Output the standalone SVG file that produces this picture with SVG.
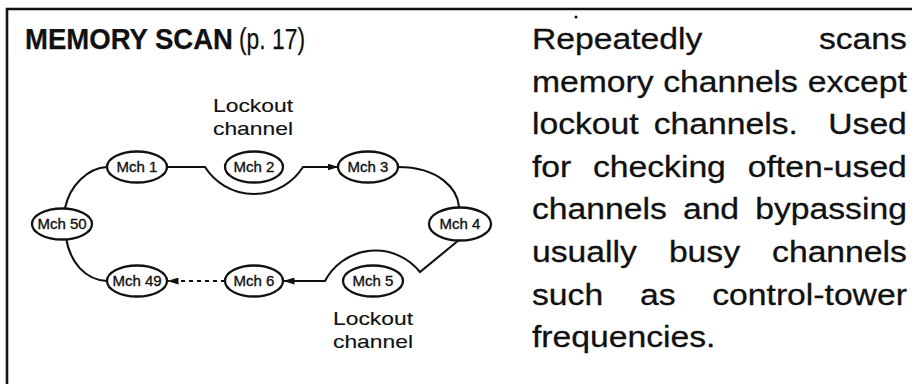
<svg xmlns="http://www.w3.org/2000/svg" width="912" height="384" viewBox="0 0 912 384">
<style>
  text { font-family: "Liberation Sans", Arial, Helvetica, sans-serif; fill: #111; stroke: #111; stroke-width: 0.25; }
  .node ellipse { fill: #fff; stroke: #111; stroke-width: 2.3; }
  .node text { font-size: 15px; text-anchor: middle; stroke-width: 0.35; }
  .conn path { fill: none; stroke: #111; stroke-width: 2.1; }
  .dash { stroke-dasharray: 4 4; }
  .lbl { font-size: 19px; text-anchor: middle; stroke-width: 0.15; }
  .para text { font-size: 30px; stroke-width: 0.3; }
  .para .e { text-anchor: end; }
</style>
<defs>
  <marker id="arr" viewBox="0 0 11 7" refX="10.5" refY="3.5" markerWidth="11" markerHeight="7" markerUnits="userSpaceOnUse" orient="auto">
    <path d="M0,0 L11,3.5 L0,7 z" fill="#111"/>
  </marker>
</defs>
<rect width="912" height="384" fill="#fff"/>
<path d="M7,384 V9 H912" fill="none" stroke="#111" stroke-width="2.6"/>
<g id="title">
  <text x="25" y="49" font-size="29" font-weight="bold" textLength="208" lengthAdjust="spacingAndGlyphs">MEMORY SCAN</text>
  <text x="239" y="49" font-size="29" textLength="66" lengthAdjust="spacingAndGlyphs">(p. 17)</text>
</g>
<g id="connectors" class="conn">
  <path d="M167,167 H205 A58,58 0 0 0 303,167 H338" marker-end="url(#arr)"/>
  <path d="M398,167 C440,167 458,190 459,207"/>
  <path d="M459,240 L420,272 A57,57 0 0 0 325,281 H284" marker-end="url(#arr)"/>
  <path class="dash" d="M225,281 H168" marker-end="url(#arr)"/>
  <path d="M107,281 C85,280 70,262 66,238"/>
  <path d="M65,208 C70,185 88,168 107,167"/>
</g>
<g id="mch1" class="node"><ellipse cx="137" cy="167" rx="30" ry="15.5"/><text x="137" y="172">Mch 1</text></g>
<g id="mch2" class="node"><ellipse cx="254" cy="167" rx="29" ry="15.5"/><text x="254" y="172">Mch 2</text></g>
<g id="mch3" class="node"><ellipse cx="368" cy="167" rx="30" ry="15.5"/><text x="368" y="172">Mch 3</text></g>
<g id="mch4" class="node"><ellipse cx="460" cy="224" rx="31" ry="16.5"/><text x="460" y="229">Mch 4</text></g>
<g id="mch5" class="node"><ellipse cx="373" cy="281" rx="30" ry="15.5"/><text x="373" y="286">Mch 5</text></g>
<g id="mch6" class="node"><ellipse cx="254" cy="281" rx="29" ry="15.5"/><text x="254" y="286">Mch 6</text></g>
<g id="mch49" class="node"><ellipse cx="137" cy="281" rx="30" ry="15.5"/><text x="137" y="286">Mch 49</text></g>
<g id="mch50" class="node"><ellipse cx="62" cy="224" rx="30" ry="15.5"/><text x="62" y="229">Mch 50</text></g>
<g id="label-top">
  <text class="lbl" x="253" y="112" textLength="80" lengthAdjust="spacingAndGlyphs">Lockout</text>
  <text class="lbl" x="253" y="135" textLength="80" lengthAdjust="spacingAndGlyphs">channel</text>
</g>
<g id="label-bottom">
  <text class="lbl" x="373" y="325" textLength="80" lengthAdjust="spacingAndGlyphs">Lockout</text>
  <text class="lbl" x="373" y="348" textLength="80" lengthAdjust="spacingAndGlyphs">channel</text>
</g>
<circle cx="576" cy="17" r="1.5" fill="#111"/>
<g id="description" class="para" transform="translate(532 0) scale(1.123 1)">
  <text x="0" y="49">Repeatedly</text><text class="e" x="333.8" y="49">scans</text>
  <text x="0" y="92">memory</text><text x="116.8" y="92">channels</text><text class="e" x="333.8" y="92">except</text>
  <text x="0" y="134">lockout</text><text x="108.4" y="134">channels.</text><text class="e" x="333.8" y="134">Used</text>
  <text x="0" y="177">for</text><text x="54.3" y="177">checking</text><text class="e" x="333.8" y="177">often-used</text>
  <text x="0" y="219">channels</text><text x="134.4" y="219">and</text><text class="e" x="333.8" y="219">bypassing</text>
  <text x="0" y="262">usually</text><text x="121.9" y="262">busy</text><text class="e" x="333.8" y="262">channels</text>
  <text x="0" y="305">such</text><text x="96.1" y="305">as</text><text class="e" x="333.8" y="305">control-tower</text>
  <text x="0" y="347">frequencies.</text>
</g>
</svg>
